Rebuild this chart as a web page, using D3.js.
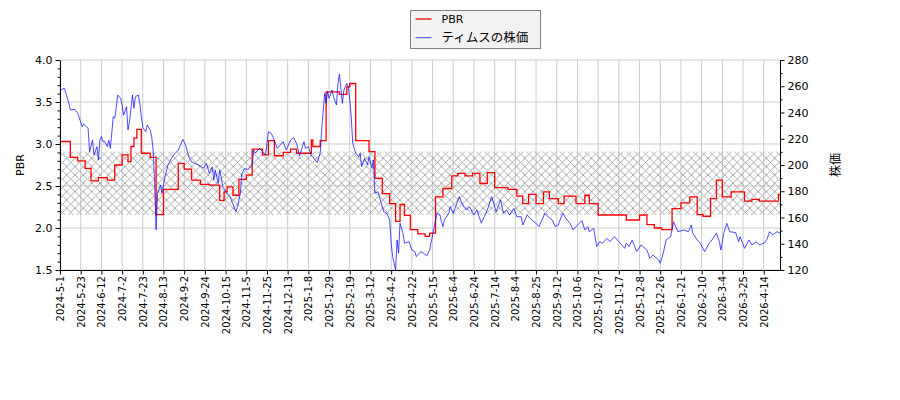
<!DOCTYPE html>
<html>
<head>
<meta charset="utf-8">
<script src="https://cdn.jsdelivr.net/npm/d3@7"></script>
<style>
  body { margin: 0; background: #fff; }
  text { font-family: "DejaVu Sans", sans-serif; }
</style>
</head>
<body>
<svg id="chart" width="900" height="400"></svg>
<script>
// tick labels, one every 14 trading days
const dateLabels = ["2024-5-1","2024-5-23","2024-6-12","2024-7-2","2024-7-23","2024-8-13","2024-9-2",
  "2024-9-24","2024-10-15","2024-11-5","2024-11-25","2024-12-13","2025-1-8","2025-1-29","2025-2-19",
  "2025-3-12","2025-4-2","2025-4-22","2025-5-15","2025-6-4","2025-6-24","2025-7-14","2025-8-4",
  "2025-8-25","2025-9-12","2025-10-6","2025-10-27","2025-11-17","2025-12-8","2025-12-26","2026-1-21",
  "2026-2-10","2026-3-4","2026-3-25","2026-4-14"];
const lastDay = 487;

// PBR (step changes): trading day index where a new value starts
const pbrDay = [0,7,12,17,21,26,32,37,42,46,48,50,52,55,61,65,70,80,84,89,95,101,108,111,113,117,121,126,
  130,137,141,145,151,156,160,170,171,176,180,189,194,196,200,209,213,218,223,227,230,233,237,242,247,250,
  254,259,265,269,274,279,284,289,294,303,309,313,317,322,327,331,337,341,349,355,358,364,383,392,397,402,
  407,414,420,426,431,435,440,444,448,454,463,468,473,486,487];
const pbrVal = [3.03,2.84,2.80,2.71,2.56,2.60,2.57,2.75,2.87,2.79,2.97,3.07,3.175,2.89,2.84,2.16,2.46,2.77,2.70,
  2.57,2.52,2.51,2.33,2.43,2.49,2.39,2.58,2.63,2.94,2.87,3.04,2.86,2.90,2.94,2.89,3.05,2.97,3.04,3.62,3.59,
  3.68,3.72,3.04,2.91,2.59,2.41,2.29,2.08,2.28,2.15,1.98,1.93,1.90,1.94,2.37,2.47,2.62,2.65,2.62,2.65,2.53,
  2.66,2.48,2.46,2.38,2.29,2.40,2.29,2.43,2.35,2.29,2.38,2.29,2.39,2.29,2.155,2.095,2.155,2.04,2.00,1.98,
  2.23,2.30,2.37,2.16,2.14,2.35,2.57,2.37,2.43,2.32,2.34,2.32,2.40,2.40];

// share price
const priceDay = [0,3,6,7,10,12,15,16,19,20,22,23,25,26,27,28,29,30,32,33,34,35,36,37,38,39,41,42,43,45,46,47,
  48,49,50,51,53,54,55,56,58,59,61,62,63,64,65,66,68,69,71,73,76,78,80,82,83,85,87,89,91,94,97,99,101,103,104,
  105,107,108,109,110,113,115,119,120,122,123,125,127,130,131,132,135,138,139,141,143,145,147,149,151,153,156,
  158,160,162,165,166,168,170,171,174,176,177,179,180,181,182,184,185,187,188,189,191,192,194,195,196,197,198,
  200,202,203,204,206,208,209,211,212,213,215,216,219,221,223,224,225,227,228,229,230,232,233,236,238,240,241,
  244,246,248,250,252,255,257,258,259,260,263,264,266,270,273,275,277,280,282,285,287,289,292,295,298,300,302,
  304,307,309,312,313,316,319,322,324,328,330,333,335,337,340,343,345,347,349,353,355,357,358,361,363,365,367,
  370,372,375,378,382,383,385,387,390,393,397,399,401,405,406,408,410,413,415,418,422,425,427,428,431,433,436,
  439,441,444,446,447,449,451,453,457,459,460,463,466,468,471,473,476,478,480,482,485,487];
const priceVal = [257,258.4,247,242,242.4,239.4,229.2,231.2,228,210,219,207.6,214,203.8,219,221.6,217.8,218.4,
  214,219,212.7,224,236.8,235.6,243.2,253.3,250.8,245.7,238,244.4,226.7,233,243.2,253.3,243.2,252,253.3,247,
  236.8,228.7,225.4,230.5,226.7,221.6,211.4,186,150.5,178.4,184.8,178.4,191.1,200,206.3,209,211.4,216.5,219.6,
  215.2,206.3,202.5,201.3,200,197.5,201.3,193.6,198.7,188.6,196.2,186,196.2,191.1,183.5,178.4,175.9,164.4,
  168.2,178.4,193.6,197.5,196.2,200,211.4,209,212.7,209,207.6,225.4,224,219,212.7,215.2,217.8,211.4,219,220.8,
  216.5,206.9,217.8,212.7,214,206.9,206.3,201.8,209,226.7,254.6,247,255.9,250.8,257.1,252,245.7,262.2,269.1,
  247,257.1,262.2,259.7,249.5,236.8,216.5,209,206.3,209,198.7,205,200,206.3,197.5,203.8,178.4,179.7,175.9,
  164.4,163.2,158.1,140.4,130.2,120,142.9,132.7,155.6,148,140.4,141.6,135.2,134,130.2,134,132.7,130.7,135.2,
  146.7,163.2,161.9,156.8,153,158.1,163.2,168.2,163.2,175.9,168.2,165.7,168.2,161.9,165.7,155.6,160.6,165.7,
  175.9,164.4,173.3,163.2,165.7,161.9,167,160.6,160.6,154.3,161.9,158.1,155.6,153,163.2,160.6,158.1,153,154.3,
  163.2,158.1,155.6,150.5,153,157.6,150.5,153,149.2,151.8,137.8,141.6,140.4,144.1,141.6,145.4,141.6,136.5,
  140.4,137.8,142.9,134,139.1,135.2,128.9,131.4,127.6,125.1,132.7,142.9,145.4,156.8,149.2,150.5,149.2,154.3,
  148,142.9,140.4,134,140.4,142.9,148,141.6,135.2,148,155.6,149.2,148.5,141.6,145.4,136.5,142.9,139.1,141.6,
  139.1,140.4,142.9,149.2,146.7,149.2,148];

// shaded band on the PBR axis
const bandRange = [2.155, 2.91];
const pbrTicks = [1.5, 2.0, 2.5, 3.0, 3.5, 4.0];
const priceTicks = [120, 140, 160, 180, 200, 220, 240, 260, 280];

const svg = d3.select("#chart");
const margin = { top: 60, right: 120, bottom: 130, left: 60 };
const W = 900, H = 400;
const x = d3.scaleLinear().domain([0, lastDay]).range([margin.left, W - margin.right]);
const yL = d3.scaleLinear().domain([1.5, 4.0]).range([H - margin.bottom, margin.top]);
const yR = d3.scaleLinear().domain([120, 280]).range([H - margin.bottom, margin.top]);
const x0 = margin.left, x1 = W - margin.right, yTop = margin.top, yBot = H - margin.bottom;
const tickDays = dateLabels.map((d, i) => i * 14);

// hatch pattern
const d = 8.33;
svg.append("defs").append("pattern")
  .attr("id", "hatch")
  .attr("patternUnits", "userSpaceOnUse")
  .attr("width", d).attr("height", d)
  .append("path")
    .attr("d", `M0,0L${d},${d}M${d},0L0,${d}`)
    .attr("stroke", "#a0a0a0")
    .attr("stroke-width", 0.9)
    .attr("fill", "none");

// grid
const grid = svg.append("g").attr("stroke", "#cccccc").attr("stroke-width", 1);
grid.selectAll("line.v").data(tickDays).enter().append("line")
  .attr("x1", t => x(t)).attr("x2", t => x(t))
  .attr("y1", yTop).attr("y2", yBot);
grid.selectAll("line.h").data(pbrTicks).enter().append("line")
  .attr("x1", x0).attr("x2", x1)
  .attr("y1", t => yL(t)).attr("y2", t => yL(t));

// band
svg.append("rect")
  .attr("x", x0).attr("width", x1 - x0)
  .attr("y", yL(bandRange[1])).attr("height", yL(bandRange[0]) - yL(bandRange[1]))
  .attr("fill", "url(#hatch)");

// lines
const pbrLine = d3.line()
  .x(p => x(p[0])).y(p => yL(p[1]))
  .curve(d3.curveStepAfter);
svg.append("path")
  .datum(d3.zip(pbrDay, pbrVal))
  .attr("d", pbrLine)
  .attr("fill", "none")
  .attr("stroke", "red")
  .attr("stroke-width", 1.3);

const priceLine = d3.line().x(p => x(p[0])).y(p => yR(p[1]));
svg.append("path")
  .datum(d3.zip(priceDay, priceVal))
  .attr("d", priceLine)
  .attr("fill", "none")
  .attr("stroke", "blue")
  .attr("stroke-opacity", 0.7)
  .attr("stroke-width", 1);

// axes
const xAxis = svg.append("g")
  .attr("transform", `translate(0,${yBot})`)
  .call(d3.axisBottom(x).tickValues(tickDays).tickFormat((t, i) => dateLabels[i]).tickSize(4.5).tickSizeOuter(0));
xAxis.selectAll("text")
  .attr("transform", "rotate(-90)")
  .attr("text-anchor", "end")
  .attr("x", -6).attr("y", 0).attr("dy", "0.35em")
  .style("font-size", "10px");

const leftAxis = svg.append("g")
  .attr("transform", `translate(${x0},0)`)
  .call(d3.axisLeft(yL).tickValues(pbrTicks).tickFormat(d3.format(".1f")).tickSize(4.5).tickSizeOuter(0));
leftAxis.selectAll("text").style("font-size", "11px");
svg.append("g")
  .attr("transform", `translate(${x0},0)`)
  .call(d3.axisLeft(yL).tickValues(d3.range(16, 40).map(v => v / 10).filter(v => Math.round(v * 10) % 5 !== 0))
    .tickFormat("").tickSize(2.5))
  .select(".domain").remove();

const rightAxis = svg.append("g")
  .attr("transform", `translate(${x1},0)`)
  .call(d3.axisRight(yR).tickValues(priceTicks).tickSize(4.5).tickSizeOuter(0));
rightAxis.selectAll("text").style("font-size", "11px");
svg.append("g")
  .attr("transform", `translate(${x1},0)`)
  .call(d3.axisRight(yR).tickValues(d3.range(130, 280, 20)).tickFormat("").tickSize(2.5))
  .select(".domain").remove();

// axis titles
svg.append("text")
  .attr("transform", `translate(20,${(yTop + yBot) / 2}) rotate(-90)`)
  .attr("text-anchor", "middle")
  .attr("dy", "0.35em")
  .style("font-size", "11px")
  .text("PBR");
svg.append("text")
  .attr("transform", `translate(836,${(yTop + yBot) / 2}) rotate(-90)`)
  .attr("text-anchor", "middle")
  .attr("dy", "0.35em")
  .style("font-family", "'Noto Sans CJK JP', sans-serif")
  .style("font-size", "12px")
  .text("株価");

// legend
const legend = svg.append("g").attr("transform", "translate(410.5,10.5)");
legend.append("rect")
  .attr("width", 130).attr("height", 38)
  .attr("fill", "#f2f2f2")
  .attr("stroke", "#808080");
const legendItems = [
  { label: "PBR", color: "red", opacity: 1, width: 1.3 },
  { label: "ティムスの株価", color: "blue", opacity: 0.7, width: 1 }
];
legendItems.forEach((it, i) => {
  const yy = 8.5 + i * 18.7;
  legend.append("line")
    .attr("x1", 5).attr("x2", 21).attr("y1", yy).attr("y2", yy)
    .attr("stroke", it.color).attr("stroke-opacity", it.opacity).attr("stroke-width", it.width);
  const t = legend.append("text")
    .attr("x", 31).attr("y", yy).attr("dy", "0.35em")
    .style("font-size", "11px")
    .text(it.label);
  if (i === 1) t.style("font-family", "'Noto Sans CJK JP', sans-serif").style("font-size", "12.5px");
});
</script>
</body>
</html>
